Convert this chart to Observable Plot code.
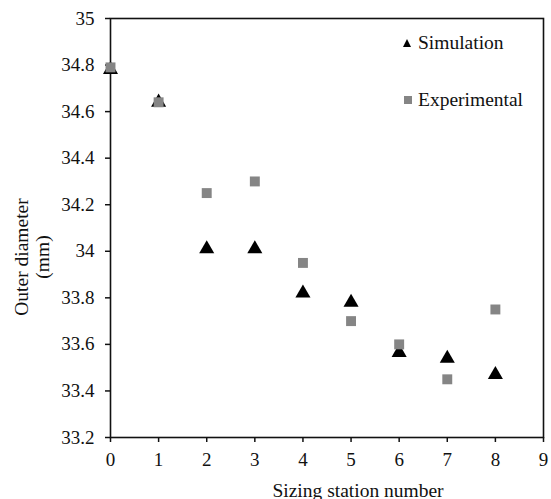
<!DOCTYPE html>
<html><head><meta charset="utf-8">
<script src="https://cdn.jsdelivr.net/npm/d3@7"></script>
<script src="https://cdn.jsdelivr.net/npm/@observablehq/plot@0.6"></script>
<style>
body{margin:0;background:#fff;}
#wrap{position:relative;width:551px;height:499px;overflow:hidden;font-family:"Liberation Serif","Times New Roman",serif;color:#111;}
.lbl{position:absolute;font-size:19.5px;line-height:19.5px;white-space:nowrap;}
.ytitle{position:absolute;width:200px;height:20px;line-height:20px;font-size:19.5px;text-align:center;transform:rotate(-90deg);white-space:nowrap;}
.tri{position:absolute;width:0;height:0;border-left:4.7px solid transparent;border-right:4.7px solid transparent;border-bottom:8px solid #000;}
.sq{position:absolute;width:8px;height:8px;background:#858585;}
</style></head><body>
<div id="wrap">
  <div id="chart"></div>
  <div id="xtitle" class="lbl" style="left:208px;top:480.5px;width:300px;text-align:center;"></div>
  <div id="ytitle1" class="ytitle" style="left:-78px;top:247px;"></div>
  <div id="ytitle2" class="ytitle" style="left:-57px;top:247px;"></div>
  <div class="tri" style="left:403.3px;top:38.7px;"></div>
  <div id="leg1" class="lbl" style="left:418px;top:32.7px;"></div>
  <div class="sq" style="left:404px;top:96px;"></div>
  <div id="leg2" class="lbl" style="left:418px;top:89.7px;"></div>
</div>
<script>
const stations = [0, 1, 2, 3, 4, 5, 6, 7, 8];
const simulation = [34.78, 34.64, 34.01, 34.01, 33.82, 33.78, 33.565, 33.54, 33.47];
const experimental = [34.79, 34.64, 34.25, 34.30, 33.95, 33.70, 33.60, 33.45, 33.75];
const xTicks = [0, 1, 2, 3, 4, 5, 6, 7, 8, 9];
const yTicks = [33.2, 33.4, 33.6, 33.8, 34.0, 34.2, 34.4, 34.6, 34.8, 35.0];
const seriesNames = ["Simulation", "Experimental"];
const xTitle = "Sizing station number";
const yTitleLines = ["Outer diameter", "(mm)"];

const simData = stations.map((s, i) => ({station: s, value: simulation[i]}));
const expData = stations.map((s, i) => ({station: s, value: experimental[i]}));

const chart = Plot.plot({
  width: 551,
  height: 499,
  marginLeft: 110,
  marginRight: 8,
  marginTop: 18,
  marginBottom: 62,
  style: {fontFamily: "Liberation Serif", fontSize: "19px"},
  x: {domain: [0, 9], label: null},
  y: {domain: [33.2, 35], label: null},
  marks: [
    Plot.axisX({ticks: xTicks, tickSize: 5, tickPadding: 10, tickFormat: "~g", strokeWidth: 1.5}),
    Plot.axisY({ticks: yTicks, tickSize: 5, tickPadding: 11, tickFormat: "~g", strokeWidth: 1.5}),
    Plot.frame({stroke: "#111", strokeWidth: 1.6}),
    Plot.dot(simData, {x: "station", y: "value", symbol: "triangle", r: 5.6, fill: "#000"}),
    Plot.dot(expData, {x: "station", y: "value", symbol: "square", r: 5.6, fill: "#858585"})
  ]
});
document.getElementById("chart").appendChild(chart);
document.getElementById("xtitle").textContent = xTitle;
document.getElementById("ytitle1").textContent = yTitleLines[0];
document.getElementById("ytitle2").textContent = yTitleLines[1];
document.getElementById("leg1").textContent = seriesNames[0];
document.getElementById("leg2").textContent = seriesNames[1];
</script></body></html>
